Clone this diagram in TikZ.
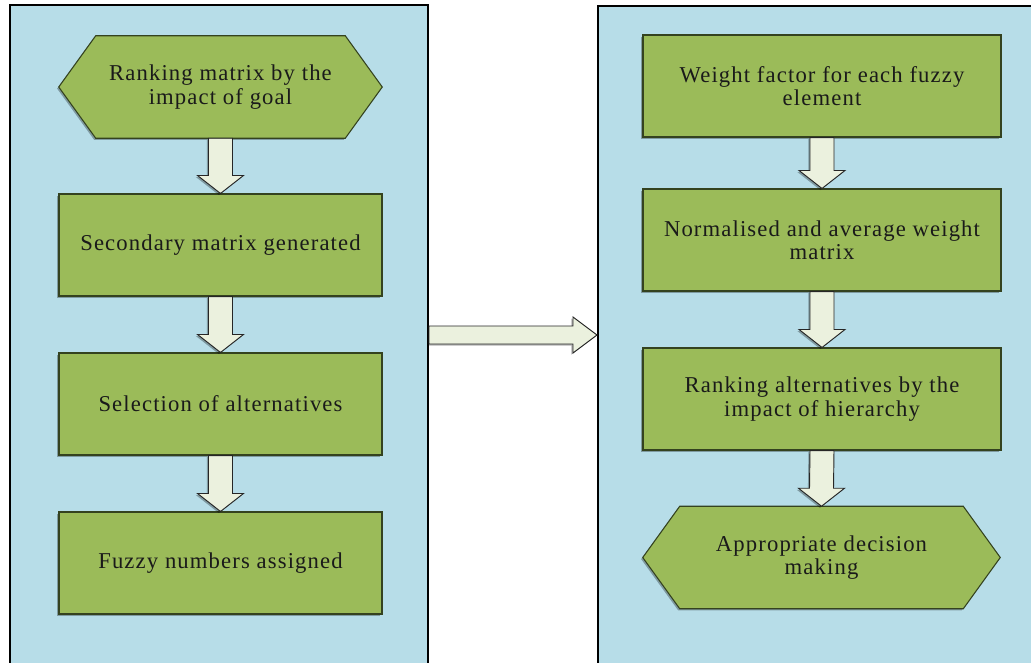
\documentclass[tikz,border=0pt]{standalone}
\usepackage{fontspec}
\setmainfont{Liberation Serif}[LetterSpace=5]
\usetikzlibrary{calc,shadows}
\newcommand{\pxu}{0.75pt}
\definecolor{panelblue}{HTML}{B7DDE8}
\definecolor{boxgreen}{HTML}{9BBB59}
\definecolor{boxline}{HTML}{34421F}
\definecolor{arrowfill}{HTML}{EBF1DE}
\definecolor{textdark}{HTML}{1A1A1A}
\pgfdeclarelayer{panels}
\pgfdeclarelayer{shapes}
\pgfsetlayers{panels,shapes,main}
% block arrow from the bottom of one box to the top of the next
\newcommand{\downblock}[2]{%
  \draw[blockarrow] ($(#1.south)+(-12,0)$) -- ($(#2.north)+(-12,-18)$) -- ($(#2.north)+(-23,-18)$) -- (#2.north)
    -- ($(#2.north)+(23,-18)$) -- ($(#2.north)+(12,-18)$) -- ($(#1.south)+(12,0)$) -- cycle;}
% hexagon drawn round a node
\newcommand{\hexround}[1]{%
  \draw[hexfill] (#1.west) -- ([xshift=37*\pxu]#1.north west) -- ([xshift=-37*\pxu]#1.north east) -- (#1.east)
    -- ([xshift=-37*\pxu]#1.south east) -- ([xshift=37*\pxu]#1.south west) -- cycle;}

\begin{document}
\begin{tikzpicture}[x=\pxu, y=-\pxu,
    panel/.style={draw=black, line width=1.5pt, fill=panelblue, rectangle, inner sep=0pt},
    boxshadow/.style={drop shadow={shadow xshift=-1.2pt, shadow yshift=-1.2pt, opacity=0.3, fill=black}},
    boxtext/.style={rectangle, inner sep=0pt, align=center, text=textdark, font=\fontsize{17pt}{17.6pt}\selectfont, minimum height=102*\pxu},
    rect/.style={boxtext, draw=boxline, line width=0.8pt, fill=boxgreen, boxshadow},
    hexnode/.style={boxtext},
    hexfill/.style={draw=boxline, line width=0.8pt, fill=boxgreen, boxshadow},
    blockarrow/.style={draw=black!85, line width=0.7pt, fill=arrowfill, line join=miter, boxshadow}]
    \useasboundingbox (0,0) rectangle (1031,662);

    % Panels
    \begin{pgfonlayer}{panels}
        \node[panel, minimum width=418*\pxu, minimum height=660*\pxu] (lpanel) at (219,335) {};
        \node[panel, minimum width=442*\pxu, minimum height=658*\pxu] (rpanel) at (819,335) {};
    \end{pgfonlayer}

    % Left column
    \node[hexnode, minimum width=323*\pxu] (left-1) at (220.5,87) {Ranking matrix by the\\impact of goal};
    \node[rect, minimum width=323*\pxu] (left-2) at (220.5,245) {Secondary matrix generated};
    \node[rect, minimum width=323*\pxu] (left-3) at (220.5,404) {Selection of alternatives};
    \node[rect, minimum width=323*\pxu] (left-4) at (220.5,563) {Fuzzy numbers assigned};

    % Right column
    \node[rect, minimum width=358*\pxu] (right-1) at (822,86) {Weight factor for each fuzzy\\element};
    \node[rect, minimum width=358*\pxu] (right-2) at (822,240) {Normalised and average weight\\matrix};
    \node[rect, minimum width=358*\pxu] (right-3) at (822,399) {Ranking alternatives by the\\impact of hierarchy};
    \node[hexnode, minimum width=357*\pxu] (right-4) at (821.5,557.5) {Appropriate decision\\making};

    \begin{pgfonlayer}{shapes}
        \hexround{left-1}
        \hexround{right-4}
    \end{pgfonlayer}

    % Arrows
    \downblock{left-1}{left-2}
    \downblock{left-2}{left-3}
    \downblock{left-3}{left-4}
    \downblock{right-1}{right-2}
    \downblock{right-2}{right-3}
    \downblock{right-3}{right-4}

    \draw[blockarrow] ($(lpanel.east)+(0,-9)$) -- ($(rpanel.west)+(-24,-9)$) -- ($(rpanel.west)+(-24,-18)$) -- (rpanel.west)
        -- ($(rpanel.west)+(-24,18)$) -- ($(rpanel.west)+(-24,9)$) -- ($(lpanel.east)+(0,9)$) -- cycle;

\end{tikzpicture}
\end{document}
